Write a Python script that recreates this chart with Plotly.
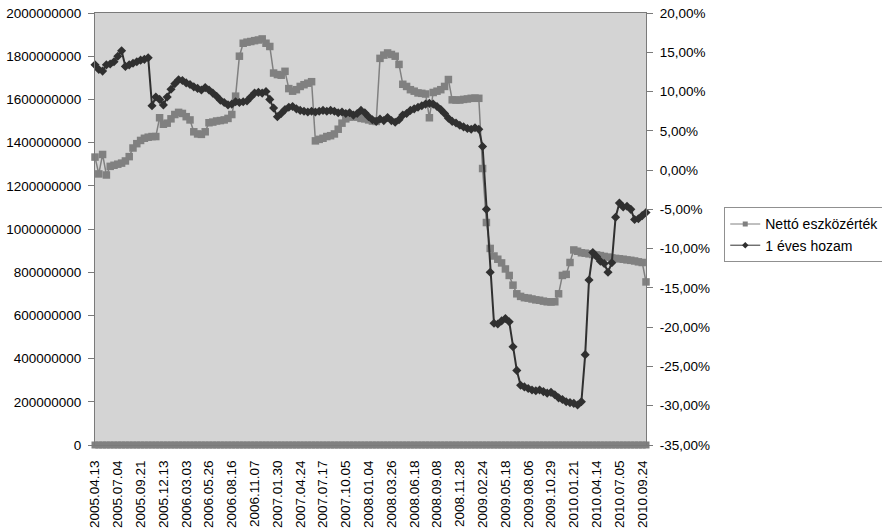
import plotly.graph_objects as go

# Nettó eszközérték (HUF, left axis), sampled roughly weekly
nav = [
    1333e6, 1255e6, 1345e6, 1250e6, 1290e6, 1295e6, 1300e6, 1305e6, 1315e6, 1335e6,
    1375e6, 1395e6, 1410e6, 1420e6, 1425e6, 1428e6, 1428e6, 1515e6, 1485e6, 1490e6,
    1510e6, 1530e6, 1540e6, 1535e6, 1520e6, 1505e6, 1450e6, 1440e6, 1438e6, 1450e6,
    1492e6, 1495e6, 1500e6, 1502e6, 1505e6, 1512e6, 1530e6, 1615e6, 1800e6, 1860e6,
    1865e6, 1868e6, 1872e6, 1875e6, 1880e6, 1860e6, 1845e6, 1722e6, 1715e6, 1712e6,
    1730e6, 1650e6, 1638e6, 1645e6, 1660e6, 1668e6, 1675e6, 1682e6, 1408e6, 1415e6,
    1420e6, 1428e6, 1432e6, 1440e6, 1462e6, 1490e6, 1510e6, 1518e6, 1520e6, 1518e6,
    1512e6, 1510e6, 1505e6, 1500e6, 1498e6, 1790e6, 1805e6, 1815e6, 1808e6, 1800e6,
    1762e6, 1670e6, 1660e6, 1645e6, 1638e6, 1630e6, 1628e6, 1625e6, 1515e6, 1632e6,
    1638e6, 1645e6, 1660e6, 1692e6, 1598e6, 1597e6, 1597e6, 1600e6, 1602e6, 1605e6,
    1606e6, 1605e6, 1280e6, 1030e6, 910e6, 875e6, 860e6, 843e6, 815e6, 785e6,
    740e6, 700e6, 688e6, 682e6, 680e6, 676e6, 672e6, 670e6, 666e6, 663e6,
    662e6, 663e6, 700e6, 785e6, 790e6, 845e6, 903e6, 897e6, 890e6, 888e6,
    885e6, 882e6, 880e6, 877e6, 873e6, 870e6, 866e6, 864e6, 862e6, 860e6,
    857e6, 855e6, 852e6, 848e6, 845e6, 755e6,
]

# 1 éves hozam (%, right axis)
yield_1y = [
    13.4, 12.8, 12.6, 13.4, 13.5, 13.8, 14.5, 15.2, 13.2, 13.4,
    13.6, 13.8, 14.0, 14.1, 14.3, 8.2, 9.3, 9.0, 8.3, 9.3,
    10.3, 11.0, 11.5, 11.4, 11.1, 10.9, 10.6, 10.4, 10.2, 10.5,
    10.2, 9.8, 9.4, 8.9, 8.6, 8.3, 8.4, 8.7, 8.6, 8.7,
    8.8, 9.3, 9.8, 9.9, 9.8, 10.0, 9.0, 7.9, 6.8, 7.2,
    7.7, 8.0, 8.1, 7.8, 7.6, 7.5, 7.4, 7.5, 7.4, 7.5,
    7.6, 7.5, 7.6, 7.5, 7.3, 7.4, 7.2, 7.3, 7.0, 7.2,
    7.6, 7.3, 6.8, 6.4, 6.2, 6.5, 6.3, 6.7, 6.3, 6.1,
    6.4, 7.0, 7.2, 7.6, 7.8, 8.0, 8.2, 8.4, 8.5, 8.4,
    8.1, 7.7, 7.2, 6.6, 6.2, 6.0, 5.7, 5.5, 5.3, 5.2,
    5.4, 5.2, 3.0, -5.0, -13.0, -19.5, -19.6, -19.2, -18.9, -19.3,
    -22.5, -25.5, -27.4, -27.6, -27.8, -28.0, -28.1, -28.0, -28.2, -28.4,
    -28.3, -28.6, -29.0, -29.2, -29.5, -29.6, -29.7, -29.9, -29.5, -23.5,
    -14.0, -10.5, -11.0, -11.6, -11.9, -13.0, -11.8, -6.0, -4.2, -4.7,
    -4.6, -5.0, -6.3, -6.2, -5.8, -5.4,
]

# zero-valued helper series lying on the category axis
baseline = [0] * len(nav)

date_labels = [
    "2005.04.13", "2005.07.04", "2005.09.21", "2005.12.13", "2006.03.03",
    "2006.05.26", "2006.08.16", "2006.11.07", "2007.01.30", "2007.04.24",
    "2007.07.17", "2007.10.05", "2008.01.04", "2008.03.26", "2008.06.18",
    "2008.09.08", "2008.11.28", "2009.02.24", "2009.05.18", "2009.08.06",
    "2009.10.29", "2010.01.21", "2010.04.14", "2010.07.05", "2010.09.24",
]

left_ticks = [0, 200e6, 400e6, 600e6, 800e6, 1000e6, 1200e6, 1400e6, 1600e6, 1800e6, 2000e6]
left_labels = ["0", "200000000", "400000000", "600000000", "800000000", "1000000000",
               "1200000000", "1400000000", "1600000000", "1800000000", "2000000000"]
right_ticks = [-35, -30, -25, -20, -15, -10, -5, 0, 5, 10, 15, 20]
right_labels = ["-35,00%", "-30,00%", "-25,00%", "-20,00%", "-15,00%", "-10,00%",
                "-5,00%", "0,00%", "5,00%", "10,00%", "15,00%", "20,00%"]

idx = list(range(len(nav)))
label_pos = idx[::6]

FONT = "Liberation Sans, Arial, sans-serif"
GRAY = "#808080"
DARK = "#303030"
AXIS = "#7a7a7a"

fig = go.Figure()

fig.add_trace(go.Scatter(
    x=idx, y=baseline, mode="lines+markers", showlegend=False,
    line=dict(color=GRAY, width=1),
    marker=dict(symbol="square", size=7, color=GRAY),
    cliponaxis=False, yaxis="y", hoverinfo="skip",
))

fig.add_trace(go.Scatter(
    x=idx, y=nav, name="Nettó eszközérték", mode="lines+markers", showlegend=False,
    line=dict(color=GRAY, width=1.5),
    marker=dict(symbol="square", size=7.5, color=GRAY),
    cliponaxis=False, yaxis="y",
))

fig.add_trace(go.Scatter(
    x=idx, y=yield_1y, name="1 éves hozam", mode="lines+markers", showlegend=False,
    line=dict(color=DARK, width=2),
    marker=dict(symbol="diamond", size=7, color=DARK),
    cliponaxis=False, yaxis="y2",
))

# legend keys with small markers
fig.add_trace(go.Scatter(
    x=[None], y=[None], name="Nettó eszközérték", mode="lines+markers",
    line=dict(color=GRAY, width=1), marker=dict(symbol="square", size=5, color=GRAY),
))
fig.add_trace(go.Scatter(
    x=[None], y=[None], name="1 éves hozam", mode="lines+markers",
    line=dict(color=DARK, width=1), marker=dict(symbol="diamond", size=5, color=DARK),
))

fig.update_layout(
    width=882, height=531,
    margin=dict(l=95, r=236, t=13, b=86, autoexpand=False),
    paper_bgcolor="white",
    plot_bgcolor="#d4d4d4",
    font=dict(family=FONT, size=13.5, color="black"),
    showlegend=True,
    xaxis=dict(
        range=[0, len(nav) - 1], automargin=False,
        tickvals=label_pos, ticktext=date_labels,
        tickangle=-90, ticks="", showgrid=False, zeroline=False,
        showline=True, linecolor=AXIS, linewidth=1, mirror=True,
        ticklabelstandoff=9,
        tickfont=dict(family=FONT, size=13.5, color="black"),
    ),
    yaxis=dict(
        range=[0, 2000e6], automargin=False,
        tickvals=left_ticks, ticktext=left_labels,
        ticks="outside", ticklen=6, tickcolor=AXIS,
        showgrid=False, zeroline=False,
        showline=True, linecolor=AXIS, linewidth=1,
        ticklabelstandoff=4,
        tickfont=dict(family=FONT, size=13.5, color="black"),
    ),
    yaxis2=dict(
        range=[-35, 20], overlaying="y", side="right", automargin=False,
        tickvals=right_ticks, ticktext=right_labels,
        ticks="outside", ticklen=6, tickcolor=AXIS,
        showgrid=False, zeroline=False,
        showline=True, linecolor=AXIS, linewidth=1,
        ticklabelstandoff=4,
        tickfont=dict(family=FONT, size=13.5, color="black"),
    ),
    legend=dict(
        x=1.142, y=0.55, xanchor="left", yanchor="top",
        bgcolor="white", bordercolor="#909090", borderwidth=1,
        font=dict(family=FONT, size=14, color="black"),
        itemwidth=30,
    ),
)

fig.write_html("out.html")
